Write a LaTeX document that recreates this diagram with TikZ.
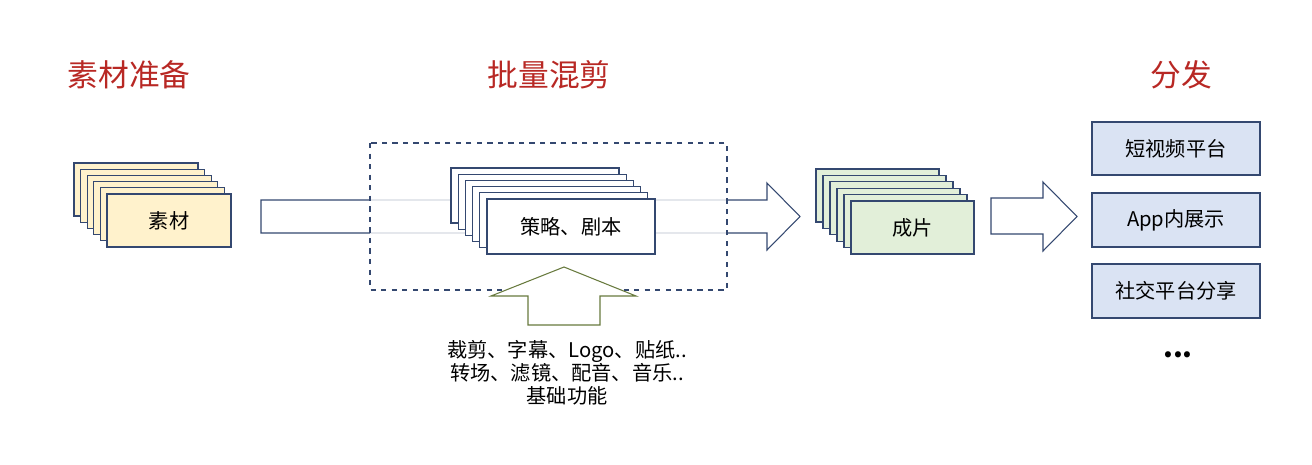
\documentclass[tikz,border=0pt]{standalone}
\usepackage{fontspec}
\setmainfont{Noto Sans CJK SC}
\usepackage{tikz}
\usetikzlibrary{positioning, calc}
\definecolor{titlered}{RGB}{184, 40, 36}
\definecolor{navy}{RGB}{52, 72, 112}
\definecolor{rawcol}{RGB}{255, 242, 204}
\definecolor{clipcol}{RGB}{226, 239, 217}
\definecolor{pubcol}{RGB}{218, 227, 243}
\definecolor{basecol}{RGB}{104, 122, 62}

\begin{document}
\begin{tikzpicture}[x=0.02cm, y=-0.02cm,
    card/.style={draw=navy, line width=0.6pt, inner sep=0pt, font=\fontsize{11.5}{13}\selectfont},
    title/.style={text=titlered, font=\fontsize{17.5}{20}\selectfont},
    blockarrow/.style={draw=navy, line width=0.6pt, fill=white}]
  \useasboundingbox (0,0) rectangle (1312,464);

  % Titles
  \node[title] (t1) at (129,75) {素材准备};
  \node[title] (t2) at (549,75) {批量混剪};
  \node[title] (t3) at (1181,75) {分发};

  % Raw material stack
  \foreach \i in {5,...,1}
    \node[card, fill=rawcol, minimum width=124*0.02cm, minimum height=53*0.02cm] (raw\i) at ($(169,220.5)+(-6.6*\i,-6.2*\i)$) {};
  \node[card, fill=rawcol, minimum width=124*0.02cm, minimum height=53*0.02cm] (raw) at (169,220.5) {素材};

  % Big arrow
  \draw[blockarrow] (261,200) -- (767,200) -- (767,183) -- (800,216.5) -- (767,250) -- (767,233) -- (261,233) -- cycle;

  % Mixing region
  \draw[navy, dashed, line width=0.6pt, fill=white, fill opacity=0.8] (370,143) rectangle (727,290);
  \foreach \i in {5,...,1}
    \node[card, fill=white, minimum width=168*0.02cm, minimum height=55*0.02cm] (plan\i) at ($(571,226.5)+(-7.2*\i,-6.2*\i)$) {};
  \node[card, fill=white, minimum width=168*0.02cm, minimum height=55*0.02cm] (plan) at (571,226.5) {策略、剧本};

  % Basic functions
  \draw[draw=basecol, line width=0.6pt, fill=white] (528,325) -- (528,296) -- (491,296) -- (564,267) -- (636,296) -- (600,296) -- (600,325) -- cycle;
  \node[align=center, font=\fontsize{11.5}{13}\selectfont] (base) at (567,373) {裁剪、字幕、Logo、贴纸..\\转场、滤镜、配音、音乐..\\基础功能};

  % Output stack
  \foreach \i in {5,...,1}
    \node[card, fill=clipcol, minimum width=123*0.02cm, minimum height=53*0.02cm] (clip\i) at ($(912.5,227.5)+(-7*\i,-6.4*\i)$) {};
  \node[card, fill=clipcol, minimum width=123*0.02cm, minimum height=53*0.02cm] (clip) at (912.5,227.5) {成片};

  % Small arrow
  \draw[blockarrow] (991,198) -- (1043,198) -- (1043,182) -- (1077,216.5) -- (1043,251) -- (1043,234) -- (991,234) -- cycle;

  % Channels
  \node[card, fill=pubcol, minimum width=168*0.02cm, minimum height=53*0.02cm] (pub1) at (1176,148.5) {短视频平台};
  \node[card, fill=pubcol, minimum width=168*0.02cm, minimum height=54*0.02cm] (pub2) at (1176,220) {App内展示};
  \node[card, fill=pubcol, minimum width=168*0.02cm, minimum height=54*0.02cm] (pub3) at (1176,291) {社交平台分享};
  \node[font=\fontsize{16}{18}\selectfont\bfseries] (more) at (1178,355) {...};
\end{tikzpicture}
\end{document}
